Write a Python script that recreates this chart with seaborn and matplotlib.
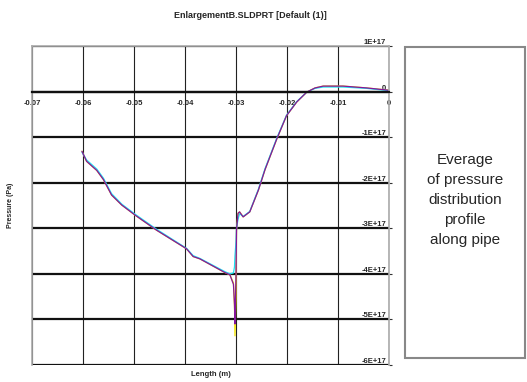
import numpy as np
import pandas as pd
import matplotlib
matplotlib.use('Agg')
import matplotlib.pyplot as plt
import matplotlib.patches as mpatches
import seaborn as sns

# data (pressure in units of 1E+17 Pa)
length_m = [-0.0602, -0.0593, -0.0573, -0.0560, -0.0544, -0.0524, -0.0498, -0.0456,
            -0.0397, -0.0384, -0.0371, -0.0322, -0.0312, -0.0305, -0.0303, -0.0302,
            -0.0300, -0.0299, -0.0296, -0.0293, -0.0286, -0.0273, -0.0256, -0.0243,
            -0.0220, -0.0201, -0.0181, -0.0161, -0.0145, -0.0129, -0.0090, -0.0044,
            -0.0001]
p_purple = [-1.31, -1.53, -1.73, -1.93, -2.27, -2.49, -2.71, -3.04, -3.45, -3.62, -3.67,
            -3.97, -4.02, -4.23, -4.67, -5.10, -4.00, -3.04, -2.67, -2.64, -2.75, -2.64,
            -2.16, -1.71, -1.04, -0.53, -0.23, -0.01, 0.08, 0.12, 0.12, 0.08, 0.03]
p_cyan = [-1.33, -1.50, -1.70, -1.90, -2.24, -2.47, -2.69, -3.02, -3.44, -3.60, -3.66,
          -3.95, -4.00, -3.98, -3.85, -3.60, -3.30, -3.00, -2.80, -2.68, -2.74, -2.63,
          -2.14, -1.69, -1.02, -0.52, -0.22, -0.01, 0.07, 0.10, 0.10, 0.07, 0.02]
p_yellow = [-1.31, -1.53, -1.73, -1.93, -2.27, -2.49, -2.71, -3.04, -3.45, -3.62, -3.67,
            -3.97, -4.02, -4.20, -4.70, -5.36, -4.50, -3.04, -2.67, -2.64, -2.75, -2.64,
            -2.16, -1.71, -1.04, -0.53, -0.23, -0.01, 0.08, 0.12, 0.12, 0.08, 0.03]

x_ticks = [-0.07, -0.06, -0.05, -0.04, -0.03, -0.02, -0.01, 0.0]
x_labels = ['-0.07', '-0.06', '-0.05', '-0.04', '-0.03', '-0.02', '-0.01', '0']
y_ticks = [-6, -5, -4, -3, -2, -1, 0, 1]
y_labels = ['-6E+17', '-5E+17', '-4E+17', '-3E+17', '-2E+17', '-1E+17', '0', '1E+17']

df = pd.concat([
    pd.DataFrame({'length': length_m, 'pressure': np.array(p) * 1e17, 'series': s})
    for s, p in [('yellow', p_yellow), ('cyan', p_cyan), ('purple', p_purple)]
])
palette = {'yellow': '#f2e300', 'cyan': '#1ee3f2', 'purple': '#86169a'}

sns.set_style('white')
narrow = ['Liberation Sans Narrow', 'Liberation Sans', 'DejaVu Sans']
plt.rcParams['font.family'] = ['Liberation Sans', 'DejaVu Sans']

fig = plt.figure(figsize=(5.27, 3.82), dpi=100)
ax = fig.add_axes([32/527, 17/382, 357/527, 319/382])

sns.lineplot(data=df, x='length', y='pressure', hue='series', palette=palette,
             hue_order=['yellow', 'cyan', 'purple'], sort=False, estimator=None,
             linewidth=0.9, legend=False, ax=ax)

ax.set_xlim(-0.07, 0)
ax.set_ylim(-6e17, 1e17)
ax.set_xticks(x_ticks)
ax.set_xticklabels(x_labels)
ax.set_yticks(np.array(y_ticks) * 1e17)
ax.set_yticklabels(y_labels)

ax.grid(True, axis='y', color='#111111', linewidth=1.6)
ax.grid(True, axis='x', color='#222222', linewidth=0.8)
ax.set_axisbelow(True)

for side in ['left', 'top', 'right']:
    ax.spines[side].set_color('#aaaaaa')
    ax.spines[side].set_linewidth(1.2)
ax.spines['bottom'].set_position(('data', 0))
ax.spines['bottom'].set_color('#111111')
ax.spines['bottom'].set_linewidth(1.6)

ax.tick_params(axis='x', length=0, pad=6, labelsize=5.5)
ax.yaxis.tick_right()
ax.tick_params(axis='y', direction='out', length=2, pad=-4, labelsize=5.5,
               color='#333333')
for lbl in ax.get_xticklabels():
    lbl.set_family(narrow)
    lbl.set_weight('bold')
for lbl in ax.get_yticklabels():
    lbl.set_family(narrow)
    lbl.set_weight('bold')
    lbl.set_ha('right')
    lbl.set_va('bottom')

ax.set_xlabel('Length (m)', fontsize=5.5, family=narrow, fontweight='bold')
ax.xaxis.set_label_coords(0.5, -0.02)
ax.xaxis.label.set_va('top')
ax.set_ylabel('Pressure (Pa)', fontsize=5, family=narrow, fontweight='bold')
ax.yaxis.set_label_position('left')
ax.yaxis.set_label_coords(-0.05, 0.5)

fig.text(250/527, 1 - 15/382, 'EnlargementB.SLDPRT [Default (1)]', ha='center',
         va='center', fontsize=6.5, family=narrow, fontweight='bold')

# side note box
box = mpatches.Rectangle((405/527, 24/382), 120/527, 311/382, transform=fig.transFigure,
                         fill=False, edgecolor='#888888', linewidth=1.5)
fig.patches.append(box)
fig.text(465/527, 1 - 200/382,
         'Everage\nof pressure\ndistribution\nprofile\nalong pipe',
         ha='center', va='center', fontsize=11, linespacing=1.55)

fig.savefig('out.png', dpi=100)
